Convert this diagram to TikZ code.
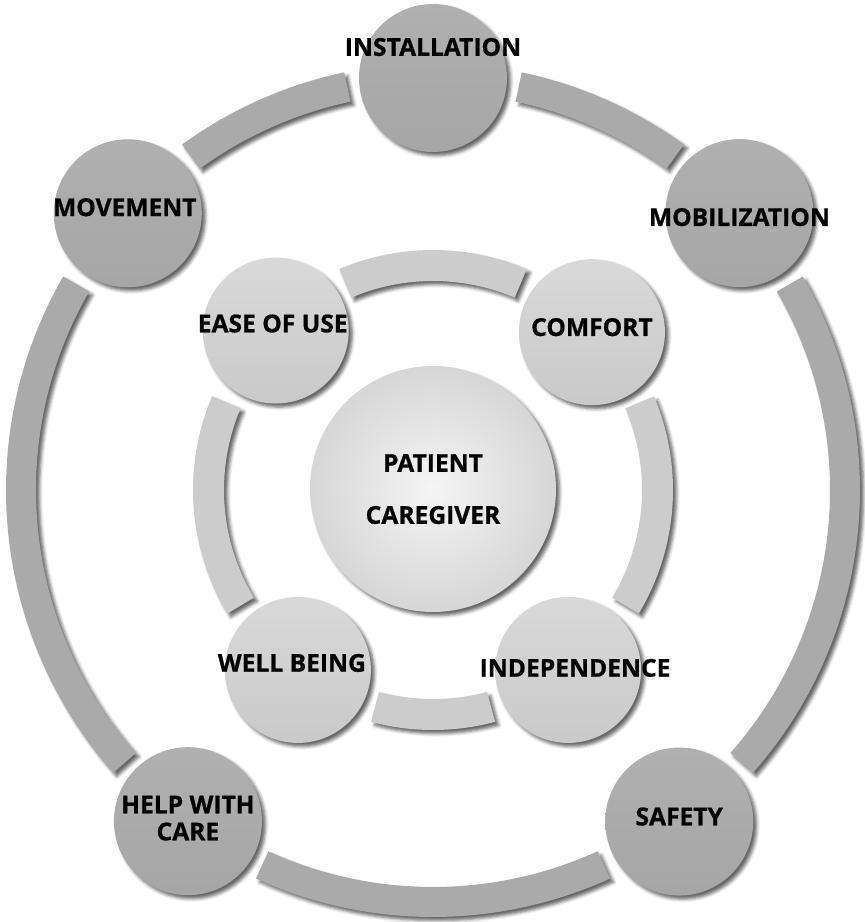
\documentclass[tikz,border=0pt]{standalone}
\usepackage{fontspec}
\setmainfont{Open Sans}[BoldFeatures={FakeBold=0.9}]
\usetikzlibrary{shadows.blur}

\definecolor{outerarc}{HTML}{AAAAAA}
\definecolor{innerarc}{HTML}{CCCCCC}

\tikzset{
  softshadow/.style={blur shadow={shadow xshift=1.8pt, shadow yshift=-1.8pt,
      shadow blur radius=1.6pt, shadow opacity=60}},
  outerball/.style={circle, minimum size=74pt, inner sep=0pt, softshadow,
      top color=black!31, bottom color=black!35},
  innerball/.style={circle, minimum size=73pt, inner sep=0pt, softshadow,
      top color=black!15, bottom color=black!21},
  hubball/.style={circle, minimum size=123pt, inner sep=0pt, softshadow,
      inner color=black!4, outer color=black!16},
  caption/.style={font=\fontsize{12.3}{13.5}\selectfont\bfseries, align=center,
      inner sep=0pt},
  outerband/.style={fill=outerarc, softshadow},
  innerband/.style={fill=innerarc, softshadow}
}

\begin{document}
\begin{tikzpicture}[x=0.5pt,y=0.5pt]
  \useasboundingbox (-433,-432) rectangle (432,490);

  % outer ring
  \fill[outerband] (102:397) arc[start angle=102, end angle=126, radius=397]
    -- (126:427) arc[start angle=126, end angle=102, radius=427] -- cycle;
  \fill[outerband] (54:397) arc[start angle=54, end angle=78, radius=397]
    -- (78:427) arc[start angle=78, end angle=54, radius=427] -- cycle;
  \fill[outerband] (150:397) arc[start angle=150, end angle=221.5, radius=397]
    -- (221.5:427) arc[start angle=221.5, end angle=150, radius=427] -- cycle;
  \fill[outerband] (245.5:397) arc[start angle=245.5, end angle=294.5, radius=397]
    -- (294.5:427) arc[start angle=294.5, end angle=245.5, radius=427] -- cycle;
  \fill[outerband] (318.5:397) arc[start angle=318.5, end angle=390, radius=397]
    -- (390:427) arc[start angle=390, end angle=318.5, radius=427] -- cycle;

  % inner ring
  \fill[innerband] (113:209) arc[start angle=113, end angle=67, radius=209]
    -- (67:240) arc[start angle=67, end angle=113, radius=240] -- cycle;
  \fill[innerband] (157:209) arc[start angle=157, end angle=211, radius=209]
    -- (211:240) arc[start angle=211, end angle=157, radius=240] -- cycle;
  \fill[innerband] (255:209) arc[start angle=255, end angle=285, radius=209]
    -- (285:240) arc[start angle=285, end angle=255, radius=240] -- cycle;
  \fill[innerband] (329:209) arc[start angle=329, end angle=383, radius=209]
    -- (383:240) arc[start angle=383, end angle=329, radius=240] -- cycle;

  % centre
  \node[hubball] (hub) at (0,1) {};
  \node[caption] (hubtop) at ([yshift=13pt]hub.center) {PATIENT};
  \node[caption] (hubbot) at ([yshift=-13pt]hub.center) {CAREGIVER};

  % inner circles
  \node[innerball] (ease) at (134.6:224) {};
  \node[innerball] (comfort) at (44.8:224) {};
  \node[innerball] (wellbeing) at (233.1:225) {};
  \node[innerball] (indep) at (306.9:225) {};

  \node[caption] (easetxt) at ([xshift=-1.5pt,yshift=3.5pt]ease.center) {EASE OF USE};
  \node[caption] (comforttxt) at ([yshift=2.5pt]comfort.center) {COMFORT};
  \node[caption] (wellbeingtxt) at ([xshift=-3pt,yshift=3.5pt]wellbeing.center) {WELL BEING};
  \node[caption] (indeptxt) at ([xshift=3.5pt,yshift=1pt]indep.center) {INDEPENDENCE};

  % outer circles
  \node[outerball] (install) at (90:412) {};
  \node[outerball] (movement) at (137.8:412) {};
  \node[outerball] (mobil) at (42.1:413) {};
  \node[outerball] (helpcare) at (233.5:412) {};
  \node[outerball] (safety) at (306.6:413) {};

  \node[caption] (installtxt) at ([yshift=15.5pt]install.center) {INSTALLATION};
  \node[caption] (movementtxt) at ([xshift=-1.5pt,yshift=3pt]movement.center) {MOVEMENT};
  \node[caption] (mobiltxt) at ([yshift=-2pt]mobil.center) {MOBILIZATION};
  \node[caption] (helpcaretxt) at ([yshift=1.5pt]helpcare.center) {HELP WITH\\CARE};
  \node[caption] (safetytxt) at ([yshift=2.5pt]safety.center) {SAFETY};

\end{tikzpicture}
\end{document}
